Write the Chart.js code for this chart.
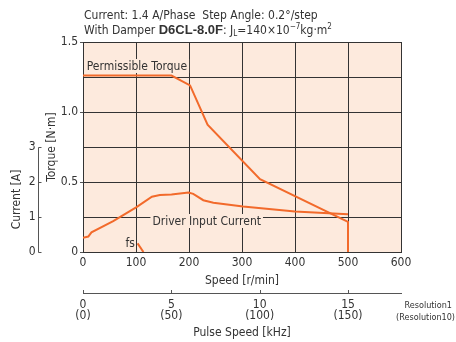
<!DOCTYPE html>
<html>
<head>
<meta charset="utf-8">
<script src="https://cdn.jsdelivr.net/npm/chart.js@4/dist/chart.umd.min.js"></script>
<style>
  html, body { margin: 0; padding: 0; background: #fff; }
  #wrap { width: 456px; height: 342px; position: relative; }
</style>
</head>
<body>
<div id="wrap"><canvas id="speedChart"></canvas></div>
<script>
// Permissible torque curve [r/min] -> [N·m]
const torqueSpeed = [0, 167, 202, 235, 334, 500, 500];
const torqueValues = [1.26, 1.26, 1.19, 0.91, 0.52, 0.216, 0];

// Driver input current [r/min] -> [A]
const currentSpeed = [0, 10, 16, 57, 101, 130, 145, 167, 199, 208, 227, 246, 302, 400, 500];
const currentValues = [0.41, 0.44, 0.56, 0.88, 1.28, 1.58, 1.63, 1.64, 1.70, 1.66, 1.48, 1.41, 1.30, 1.16, 1.08];

// fs (max starting pulse rate) marker
const fsSpeed = [103, 114];
const fsValues = [0.062, 0];

// Axis ticks
const currentTicks = [0, 1, 2, 3];
const pulseTicks = [0, 5, 10, 15];
const pulseTicksRes10 = ['(0)', '(50)', '(100)', '(150)'];

const ORANGE = '#f26a2b';
const GRID = '#333';
const TEXT = '#333';
const PLOT_BG = '#fdeadd';
const NARROW = "'DejaVu Sans Condensed', 'Liberation Sans Narrow', sans-serif";
const FS = 12;

function toPoints(xs, ys) {
    return xs.map((x, i) => ({ x: x, y: ys[i] }));
}

// Peach plot area background
const plotBackground = {
    id: 'plotBackground',
    beforeDraw(chart) {
        const { ctx, chartArea } = chart;
        ctx.save();
        ctx.fillStyle = PLOT_BG;
        ctx.fillRect(chartArea.left, chartArea.top, chartArea.right - chartArea.left, chartArea.bottom - chartArea.top);
        ctx.restore();
    }
};

// Labels inside the plot, boxes hide the grid behind them
const curveLabels = {
    id: 'curveLabels',
    beforeDatasetsDraw(chart) {
        const { ctx } = chart;
        const x = chart.scales.x;
        const y = chart.scales.y;
        ctx.save();
        ctx.font = FS + 'px ' + NARROW;
        ctx.textBaseline = 'alphabetic';
        const items = [
            { text: 'Permissible Torque', sx: 7, ty: 70 },
            { text: 'Driver Input Current', sx: 131, ty: 225 }
        ];
        items.forEach(it => {
            const px = x.getPixelForValue(it.sx);
            const w = ctx.measureText(it.text).width;
            ctx.fillStyle = PLOT_BG;
            ctx.fillRect(px - 2, it.ty - 11, w + 4, 14);
            ctx.fillStyle = TEXT;
            ctx.fillText(it.text, px, it.ty);
        });
        ctx.fillStyle = TEXT;
        ctx.textAlign = 'right';
        ctx.fillText('fs', x.getPixelForValue(98), y.bottom - 5);
        ctx.restore();
    }
};

// Titles, current axis, pulse axis tick marks, resolution notes
const extras = {
    id: 'extras',
    afterDraw(chart) {
        const { ctx } = chart;
        const y2 = chart.scales.y2;
        const x2 = chart.scales.x2;
        ctx.save();
        ctx.fillStyle = TEXT;
        ctx.textBaseline = 'alphabetic';

        // header line 1
        ctx.font = FS + 'px ' + NARROW;
        ctx.fillText('Current: 1.4 A/Phase  Step Angle: 0.2°/step', 84, 19);

        // header line 2 with mixed styles
        let cx = 84;
        const parts = [
            { t: 'With Damper ', f: FS + 'px ' + NARROW, dy: 0 },
            { t: 'D6CL-8.0F', f: "bold 13px 'Liberation Sans', Arial, sans-serif", dy: 0 },
            { t: ': J', f: FS + 'px ' + NARROW, dy: 0 },
            { t: 'L', f: '8px ' + NARROW, dy: 2 },
            { t: '=140×10', f: FS + 'px ' + NARROW, dy: 0 },
            { t: '−7', f: '8px ' + NARROW, dy: -5 },
            { t: 'kg·m', f: FS + 'px ' + NARROW, dy: 0 },
            { t: '2', f: '8px ' + NARROW, dy: -5 }
        ];
        parts.forEach(p => {
            ctx.font = p.f;
            ctx.fillText(p.t, cx, 34 + p.dy);
            cx += ctx.measureText(p.t).width;
        });

        // current axis (0-3 A) on the far left
        const ax = 38.5;
        ctx.strokeStyle = '#555';
        ctx.lineWidth = 1;
        ctx.beginPath();
        ctx.moveTo(ax, Math.round(y2.getPixelForValue(0)) + 0.5);
        ctx.lineTo(ax, Math.round(y2.getPixelForValue(3)) + 0.5);
        currentTicks.forEach(v => {
            const py = Math.round(y2.getPixelForValue(v)) + 0.5;
            ctx.moveTo(ax, py);
            ctx.lineTo(ax + 3, py);
        });
        ctx.stroke();
        ctx.font = FS + 'px ' + NARROW;
        ctx.textAlign = 'right';
        ctx.textBaseline = 'middle';
        currentTicks.forEach(v => {
            ctx.fillText(String(v), ax - 3, y2.getPixelForValue(v));
        });
        ctx.save();
        ctx.translate(17, (y2.getPixelForValue(0) + y2.getPixelForValue(3)) / 2);
        ctx.rotate(-Math.PI / 2);
        ctx.textAlign = 'center';
        ctx.fillText('Current [A]', 0, 0);
        ctx.restore();

        // upward tick marks on the pulse speed axis
        ctx.strokeStyle = '#555';
        ctx.beginPath();
        pulseTicks.forEach(v => {
            const px = Math.round(x2.getPixelForValue(v)) + 0.5;
            ctx.moveTo(px, x2.top);
            ctx.lineTo(px, x2.top - 3);
        });
        ctx.stroke();

        // resolution notes
        ctx.font = '9px ' + NARROW;
        ctx.textAlign = 'right';
        ctx.textBaseline = 'alphabetic';
        ctx.fillText('Resolution1', 452, 308);
        ctx.fillText('(Resolution10)', 455, 320);
        ctx.restore();
    }
};

const ctx = document.getElementById('speedChart').getContext('2d');
const chart = new Chart(ctx, {
    type: 'line',
    data: {
        datasets: [
            {
                label: 'Permissible Torque',
                data: toPoints(torqueSpeed, torqueValues),
                borderColor: ORANGE,
                borderWidth: 2,
                pointRadius: 0,
                tension: 0,
                yAxisID: 'y'
            },
            {
                label: 'Driver Input Current',
                data: toPoints(currentSpeed, currentValues),
                borderColor: ORANGE,
                borderWidth: 2,
                pointRadius: 0,
                tension: 0,
                yAxisID: 'y2'
            },
            {
                label: 'fs',
                data: toPoints(fsSpeed, fsValues),
                borderColor: ORANGE,
                borderWidth: 2,
                pointRadius: 0,
                yAxisID: 'y'
            }
        ]
    },
    options: {
        responsive: true,
        maintainAspectRatio: false,
        animation: false,
        devicePixelRatio: 1,
        layout: { padding: { top: 42, left: 45, right: 55, bottom: 0 } },
        plugins: {
            legend: { display: false },
            tooltip: { enabled: false }
        },
        scales: {
            x: {
                type: 'linear',
                position: 'bottom',
                weight: 0,
                min: 0,
                max: 600,
                grid: { color: GRID, drawTicks: false },
                border: { color: GRID },
                ticks: {
                    stepSize: 100,
                    padding: 4,
                    maxRotation: 0,
                    color: TEXT,
                    font: { family: NARROW, size: FS }
                },
                title: {
                    display: true,
                    text: 'Speed [r/min]',
                    color: TEXT,
                    padding: { top: 0, bottom: 5 },
                    font: { family: NARROW, size: FS }
                },
                afterFit(scale) { scale.height = 41; }
            },
            x2: {
                type: 'linear',
                position: 'bottom',
                weight: 1,
                min: 0,
                max: 18,
                grid: { display: false, drawTicks: false },
                border: { display: true, color: '#555' },
                afterBuildTicks(scale) {
                    scale.ticks = pulseTicks.map(v => ({ value: v }));
                },
                ticks: {
                    padding: 6,
                    maxRotation: 0,
                    color: TEXT,
                    font: { family: NARROW, size: FS, lineHeight: 0.95 },
                    callback: (v) => [String(v), pulseTicksRes10[pulseTicks.indexOf(v)]]
                },
                title: {
                    display: true,
                    text: 'Pulse Speed [kHz]',
                    color: TEXT,
                    padding: 2,
                    font: { family: NARROW, size: FS }
                },
                afterFit(scale) { scale.height = 49; }
            },
            y: {
                position: 'left',
                min: 0,
                max: 1.5,
                grid: {
                    color: GRID,
                    tickLength: 3,
                    tickColor: (c) => (c.tick && Math.abs(c.tick.value * 2 - Math.round(c.tick.value * 2)) < 1e-6) ? '#555' : 'rgba(0,0,0,0)'
                },
                border: { color: GRID },
                ticks: {
                    stepSize: 0.25,
                    padding: 2,
                    color: TEXT,
                    font: { family: NARROW, size: FS },
                    callback: (v) => {
                        if (Math.abs(v * 2 - Math.round(v * 2)) > 1e-6) return '';
                        return v === 0 ? '0' : v.toFixed(1);
                    }
                },
                title: {
                    display: true,
                    text: 'Torque [N·m]',
                    color: TEXT,
                    padding: 0,
                    font: { family: NARROW, size: FS }
                },
                afterFit(scale) { scale.width = 38; }
            },
            y2: {
                display: false,
                position: 'left',
                min: 0,
                max: 6
            }
        }
    },
    plugins: [plotBackground, curveLabels, extras]
});
</script>
</body>
</html>
